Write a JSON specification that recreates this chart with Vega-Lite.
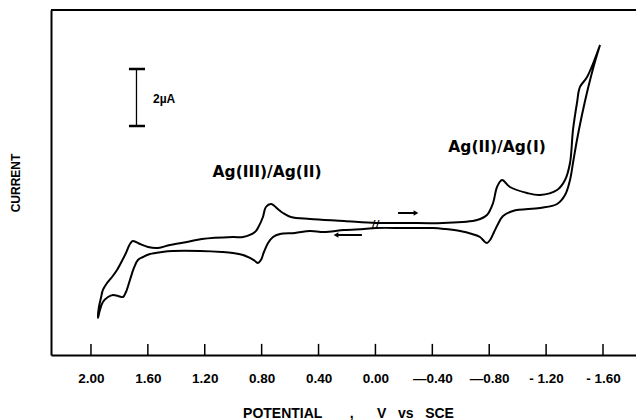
{
  "$schema": "https://vega.github.io/schema/vega-lite/v6.json",
  "width": 585,
  "height": 345,
  "autosize": {"type": "none"},
  "padding": {"left": 51, "top": 10, "right": 0, "bottom": 65},
  "background": "white",
  "config": {
    "view": {"stroke": null},
    "axis": {"domainColor": "black", "domainWidth": 2, "tickColor": "black", "grid": false}
  },
  "datasets": {
    "cv": [
      {"i": 1, "E": -1.579, "I": 10.877}, {"i": 2, "E": -1.488, "I": 9.754}, {"i": 3, "E": -1.438, "I": 9.404},
      {"i": 4, "E": -1.417, "I": 8.842}, {"i": 5, "E": -1.389, "I": 7.895}, {"i": 6, "E": -1.368, "I": 6.737},
      {"i": 7, "E": -1.333, "I": 6.140}, {"i": 8, "E": -1.277, "I": 5.789}, {"i": 9, "E": -1.157, "I": 5.614},
      {"i": 10, "E": -1.066, "I": 5.684}, {"i": 11, "E": -0.946, "I": 5.895}, {"i": 12, "E": -0.890, "I": 6.140},
      {"i": 13, "E": -0.855, "I": 5.895}, {"i": 14, "E": -0.827, "I": 5.333}, {"i": 15, "E": -0.784, "I": 4.912},
      {"i": 16, "E": -0.714, "I": 4.737}, {"i": 17, "E": -0.475, "I": 4.632}, {"i": 18, "E": -0.208, "I": 4.632},
      {"i": 19, "E": -0.004, "I": 4.632}, {"i": 20, "E": 0.221, "I": 4.702}, {"i": 21, "E": 0.460, "I": 4.772},
      {"i": 22, "E": 0.594, "I": 4.842}, {"i": 23, "E": 0.650, "I": 4.982}, {"i": 24, "E": 0.678, "I": 5.088},
      {"i": 25, "E": 0.734, "I": 5.298}, {"i": 26, "E": 0.770, "I": 5.193}, {"i": 27, "E": 0.791, "I": 4.842},
      {"i": 28, "E": 0.819, "I": 4.526}, {"i": 29, "E": 0.847, "I": 4.316}, {"i": 30, "E": 0.931, "I": 4.140},
      {"i": 31, "E": 1.002, "I": 4.140}, {"i": 32, "E": 1.220, "I": 4.070}, {"i": 33, "E": 1.325, "I": 3.965},
      {"i": 34, "E": 1.445, "I": 3.860}, {"i": 35, "E": 1.529, "I": 3.754}, {"i": 36, "E": 1.599, "I": 3.789},
      {"i": 37, "E": 1.655, "I": 3.895}, {"i": 38, "E": 1.705, "I": 4.000}, {"i": 39, "E": 1.726, "I": 3.895},
      {"i": 40, "E": 1.754, "I": 3.579}, {"i": 41, "E": 1.775, "I": 3.368}, {"i": 42, "E": 1.817, "I": 2.982},
      {"i": 43, "E": 1.852, "I": 2.737}, {"i": 44, "E": 1.887, "I": 2.526}, {"i": 45, "E": 1.916, "I": 2.281},
      {"i": 46, "E": 1.930, "I": 2.000}, {"i": 47, "E": 1.944, "I": 1.684}, {"i": 48, "E": 1.951, "I": 1.298},
      {"i": 49, "E": 1.937, "I": 1.579}, {"i": 50, "E": 1.916, "I": 1.860}, {"i": 51, "E": 1.880, "I": 2.035},
      {"i": 52, "E": 1.845, "I": 2.105}, {"i": 53, "E": 1.810, "I": 2.070}, {"i": 54, "E": 1.775, "I": 2.035},
      {"i": 55, "E": 1.754, "I": 2.211}, {"i": 56, "E": 1.726, "I": 2.632}, {"i": 57, "E": 1.698, "I": 3.053},
      {"i": 58, "E": 1.670, "I": 3.333}, {"i": 59, "E": 1.634, "I": 3.439}, {"i": 60, "E": 1.585, "I": 3.544},
      {"i": 61, "E": 1.501, "I": 3.614}, {"i": 62, "E": 1.423, "I": 3.649}, {"i": 63, "E": 1.234, "I": 3.649},
      {"i": 64, "E": 1.079, "I": 3.614}, {"i": 65, "E": 1.002, "I": 3.579}, {"i": 66, "E": 0.931, "I": 3.509},
      {"i": 67, "E": 0.882, "I": 3.404}, {"i": 68, "E": 0.847, "I": 3.298}, {"i": 69, "E": 0.826, "I": 3.228},
      {"i": 70, "E": 0.805, "I": 3.333}, {"i": 71, "E": 0.784, "I": 3.614}, {"i": 72, "E": 0.755, "I": 3.930},
      {"i": 73, "E": 0.720, "I": 4.140}, {"i": 74, "E": 0.671, "I": 4.246}, {"i": 75, "E": 0.566, "I": 4.281},
      {"i": 76, "E": 0.460, "I": 4.351}, {"i": 77, "E": 0.362, "I": 4.316}, {"i": 78, "E": 0.221, "I": 4.386},
      {"i": 79, "E": 0.080, "I": 4.421}, {"i": 80, "E": -0.004, "I": 4.456}, {"i": 81, "E": -0.208, "I": 4.456},
      {"i": 82, "E": -0.405, "I": 4.456}, {"i": 83, "E": -0.489, "I": 4.421}, {"i": 84, "E": -0.595, "I": 4.351},
      {"i": 85, "E": -0.679, "I": 4.246}, {"i": 86, "E": -0.735, "I": 4.140}, {"i": 87, "E": -0.770, "I": 3.965},
      {"i": 88, "E": -0.784, "I": 3.930}, {"i": 89, "E": -0.806, "I": 4.035}, {"i": 90, "E": -0.834, "I": 4.316},
      {"i": 91, "E": -0.862, "I": 4.596}, {"i": 92, "E": -0.897, "I": 4.877}, {"i": 93, "E": -0.967, "I": 5.053},
      {"i": 94, "E": -1.157, "I": 5.158}, {"i": 95, "E": -1.277, "I": 5.298}, {"i": 96, "E": -1.333, "I": 5.614},
      {"i": 97, "E": -1.368, "I": 6.140}, {"i": 98, "E": -1.389, "I": 6.737}, {"i": 99, "E": -1.417, "I": 7.544},
      {"i": 100, "E": -1.452, "I": 8.421}, {"i": 101, "E": -1.495, "I": 9.368}, {"i": 102, "E": -1.537, "I": 10.175},
      {"i": 103, "E": -1.579, "I": 10.877}
    ],
    "ticks": [
      {"E": 2.0}, {"E": 1.6}, {"E": 1.2}, {"E": 0.8}, {"E": 0.4},
      {"E": 0.0}, {"E": -0.4}, {"E": -0.8}, {"E": -1.2}, {"E": -1.6}
    ],
    "top": [{"I": 12.105}],
    "bar": [{"E": 1.680, "I1": 8.035, "I2": 10.035}],
    "caps": [{"E1": 1.733, "E2": 1.620, "I": 10.035}, {"E1": 1.733, "E2": 1.620, "I": 8.035}],
    "arrows": [
      {"E1": -0.159, "E2": -0.285, "I": 4.982, "shape": "triangle-right"},
      {"E1": 0.095, "E2": 0.277, "I": 4.211, "shape": "triangle-left"}
    ],
    "labels": [
      {"E": 0.762, "I": 6.42, "t": "Ag(III)/Ag(II)"},
      {"E": -0.855, "I": 7.30, "t": "Ag(II)/Ag(I)"}
    ],
    "scaleLabel": [{"E": 1.564, "I": 8.98, "t": "2µA"}],
    "brk": [{"E": 0.0, "I": 4.55, "t": "//"}]
  },
  "layer": [
    {
      "data": {"name": "cv"},
      "mark": {"type": "line", "color": "black", "strokeWidth": 2, "interpolate": "catmull-rom"},
      "encoding": {
        "x": {
          "field": "E", "type": "quantitative",
          "scale": {"domain": [2.281, -1.832], "nice": false, "zero": false},
          "axis": {
            "values": [2, 1.6, 1.2, 0.8, 0.4, 0, -0.4, -0.8, -1.2, -1.6],
            "labelExpr": "datum.value >= 0 ? format(datum.value, '.2f') : (datum.value > -1 ? '\u2014' + format(-datum.value, '.2f') : '- ' + format(-datum.value, '.2f'))",
            "ticks": false,
            "labelPadding": 16, "labelFont": "Liberation Sans", "labelFontWeight": "bold", "labelFontSize": 13.5, "labelColor": "black", "labelDx": 3,
            "title": "POTENTIAL\u00a0\u00a0\u00a0\u00a0\u00a0\u00a0\u00a0,\u00a0\u00a0\u00a0\u00a0\u00a0\u00a0V\u00a0\u00a0\u00a0vs\u00a0\u00a0\u00a0SCE",
            "titleFont": "Liberation Sans", "titleFontWeight": "bold", "titleFontSize": 14, "titleColor": "black", "titlePadding": 22, "titleX": 297
          }
        },
        "y": {
          "field": "I", "type": "quantitative",
          "scale": {"domain": [0, 12.105], "nice": false, "zero": false},
          "axis": {
            "ticks": false, "labels": false, "title": "CURRENT",
            "titleFont": "Liberation Sans", "titleFontWeight": "bold", "titleFontSize": 12, "titleColor": "black", "titlePadding": 29
          }
        },
        "order": {"field": "i", "type": "quantitative"}
      }
    },
    {
      "data": {"name": "ticks"},
      "mark": {"type": "rule", "color": "black", "strokeWidth": 1.5},
      "encoding": {"x": {"field": "E", "type": "quantitative"}, "y": {"datum": 0}, "y2": {"datum": 0.39}}
    },
    {
      "data": {"name": "top"},
      "mark": {"type": "rule", "color": "black", "strokeWidth": 2},
      "encoding": {"y": {"field": "I", "type": "quantitative"}}
    },
    {
      "data": {"name": "bar"},
      "mark": {"type": "rule", "color": "black", "strokeWidth": 1.3},
      "encoding": {"x": {"field": "E", "type": "quantitative"}, "y": {"field": "I1", "type": "quantitative"}, "y2": {"field": "I2"}}
    },
    {
      "data": {"name": "caps"},
      "mark": {"type": "rule", "color": "black", "strokeWidth": 2.5},
      "encoding": {"x": {"field": "E1", "type": "quantitative"}, "x2": {"field": "E2"}, "y": {"field": "I", "type": "quantitative"}}
    },
    {
      "data": {"name": "arrows"},
      "mark": {"type": "rule", "color": "black", "strokeWidth": 2},
      "encoding": {"x": {"field": "E1", "type": "quantitative"}, "x2": {"field": "E2"}, "y": {"field": "I", "type": "quantitative"}}
    },
    {
      "data": {"name": "arrows"},
      "mark": {"type": "point", "filled": true, "color": "black", "size": 30, "opacity": 1},
      "encoding": {"x": {"field": "E2", "type": "quantitative"}, "y": {"field": "I", "type": "quantitative"}, "shape": {"field": "shape", "type": "nominal", "scale": null}}
    },
    {
      "data": {"name": "labels"},
      "mark": {"type": "text", "font": "DejaVu Sans", "fontWeight": "bold", "fontSize": 15.5, "color": "black", "align": "center", "baseline": "middle"},
      "encoding": {"x": {"field": "E", "type": "quantitative"}, "y": {"field": "I", "type": "quantitative"}, "text": {"field": "t"}}
    },
    {
      "data": {"name": "scaleLabel"},
      "mark": {"type": "text", "font": "Liberation Sans", "fontWeight": "bold", "fontSize": 12, "color": "black", "align": "left", "baseline": "middle"},
      "encoding": {"x": {"field": "E", "type": "quantitative"}, "y": {"field": "I", "type": "quantitative"}, "text": {"field": "t"}}
    },
    {
      "data": {"name": "brk"},
      "mark": {"type": "text", "font": "DejaVu Sans", "fontWeight": "bold", "fontSize": 11, "color": "black", "align": "center", "baseline": "middle"},
      "encoding": {"x": {"field": "E", "type": "quantitative"}, "y": {"field": "I", "type": "quantitative"}, "text": {"field": "t"}}
    }
  ]
}
